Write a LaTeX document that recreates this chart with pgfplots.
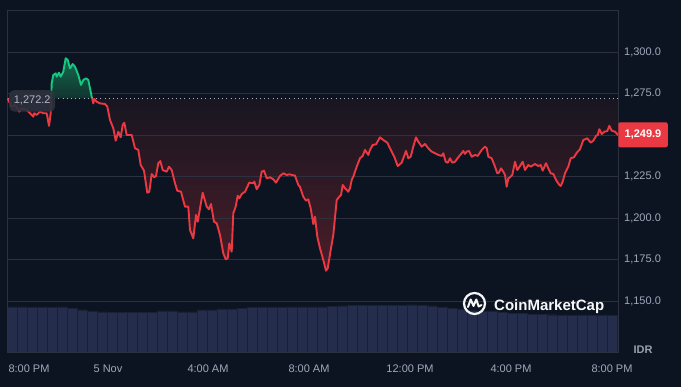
\documentclass[border=0pt]{standalone}
\usepackage{fontspec}
\setmainfont{Liberation Sans}
\usepackage{pgfplots}
\pgfplotsset{compat=1.18}
\usepackage{pgfplotstable}

\definecolor{bg}{HTML}{0D1421}
\definecolor{gridc}{HTML}{2C313D}
\definecolor{tickc}{HTML}{A1A7BB}
\definecolor{upc}{HTML}{16C784}
\definecolor{downc}{HTML}{EA3943}
\definecolor{volc}{HTML}{252D4C}
\definecolor{volline}{HTML}{1A2036}
\definecolor{redtop}{HTML}{181621}
\definecolor{redbot}{HTML}{4A1D28}
\definecolor{redbotA}{HTML}{241922}
\definecolor{greentop}{HTML}{166A4D}
\definecolor{greenbot}{HTML}{10332E}

\pgfplotsset{
  chartbox/.style={at={(7pt,35pt)}, anchor=south west, scale only axis,
    width=611pt, height=342pt, xmin=7, xmax=618},
}

% price: x = horizontal position (time, px scale), y = price (IDR)
\pgfplotstableread{
x y
7.3 1272.2
8.3 1271.2
11.7 1267.2
15 1268.2
19.3 1264.2
21.7 1266.2
26.7 1265.2
33.3 1261.2
34.3 1263.2
36.7 1262.2
40 1264.2
43.3 1263.2
46.7 1263.2
49 1255.6
50.7 1263.2
51.2 1272.2
}\redA

\pgfplotstableread{
x y
51.2 1272.2
51.7 1281.3
53.3 1286.3
55.7 1287.3
56.7 1285.3
59 1287.7
60.7 1285.3
63.3 1288.3
65.7 1296.4
67.7 1295.4
70 1290.3
72.7 1292.9
75 1291.3
78.3 1286.3
81 1280.3
83.3 1283.3
86 1284.3
88.3 1283.3
91.7 1273.2
92.1 1272.2
}\greenA

\pgfplotstableread{
x y
92.1 1272.2
93.3 1269.2
94.3 1271.8
96.7 1270.2
100 1269.2
105 1268.8
107.3 1267.2
110 1259.2
113.3 1254.2
115.7 1246.7
118.3 1252.1
120.7 1248.7
122.7 1256.2
124.3 1257.5
126.7 1250.1
131.7 1250.1
135 1242.1
138.3 1241.1
140.7 1232.0
144 1228.6
147.3 1215.3
149.3 1215.9
151.7 1226.6
154.3 1224.6
156 1225.4
158.3 1233.1
160.3 1234.4
162.7 1229.0
166.7 1228.0
169 1231.0
171.7 1229.0
175 1221.0
177.3 1216.5
181 1215.9
185 1206.9
188.3 1206.9
190 1192.8
193.3 1187.8
196 1201.9
197.7 1197.8
202.7 1215.3
206.7 1206.9
209 1205.3
211 1208.5
214 1197.8
216.7 1196.9
220 1189.8
223.3 1178.8
225.7 1175.2
227.7 1175.8
229.3 1184.8
231.7 1179.7
233.3 1202.9
235.7 1206.9
237.7 1213.5
239.3 1211.9
241.7 1214.5
245 1215.9
249.3 1221.4
253.3 1221.0
254.3 1222.0
256.7 1217.4
259.3 1220.0
261.7 1228.0
264 1228.6
266.7 1224.0
270 1224.6
273.3 1223.4
276 1221.4
280 1225.4
283.3 1227.0
286.7 1226.0
289.3 1226.4
295 1225.6
298.3 1220.0
300 1218.9
303.3 1212.9
306 1210.5
308.3 1211.3
310.7 1205.9
313.3 1196.4
315 1200.9
317.3 1188.8
320 1181.8
323.3 1174.7
326 1168.3
327.7 1169.7
330.7 1180.8
333.3 1189.8
336.7 1210.9
339.3 1212.9
341 1213.9
342.7 1220.0
345 1218.0
348.3 1215.9
350 1218.0
351.7 1223.0
353.3 1225.0
356.7 1231.0
360 1236.1
362.7 1237.5
365 1241.1
368.3 1238.1
370 1241.1
372.7 1244.1
376 1244.5
380 1248.7
383.3 1247.1
387.3 1245.5
390 1242.1
394.3 1237.0
397.7 1231.4
401.7 1233.4
406 1240.5
408.3 1236.1
410.7 1237.0
413.3 1243.1
416 1248.7
418.3 1246.1
421.7 1243.1
425 1244.7
428.3 1242.1
431.7 1240.1
435 1239.1
438.3 1238.1
441.7 1237.5
443.3 1239.1
445.7 1234.0
447.7 1233.4
450 1236.1
452.3 1233.4
455 1234.0
458.3 1236.7
461.7 1239.1
463.3 1240.5
465 1238.7
466.7 1240.1
469 1240.5
471.7 1237.0
475 1238.1
477.7 1237.5
481.7 1241.1
485 1243.1
486.7 1242.1
488.3 1237.0
491.7 1236.1
495 1231.0
497.3 1227.0
499 1227.4
501 1230.0
503.3 1228.0
505 1226.0
506.7 1218.9
508.3 1224.0
510 1224.6
512.3 1226.0
515 1234.0
517.3 1229.0
520 1231.4
522.7 1234.0
525 1229.0
528.3 1232.0
530.7 1231.0
535 1232.6
538.3 1231.4
540.7 1232.0
542.7 1228.6
546 1233.1
548.3 1230.0
550.7 1227.0
553.3 1226.6
556 1223.0
559.3 1220.0
560.7 1219.4
562.7 1222.0
565 1227.0
568.3 1231.0
570.7 1236.1
574 1236.7
576.7 1239.4
580 1241.5
583.3 1247.1
587.3 1248.1
590.7 1245.5
593.3 1246.7
596 1249.5
597.7 1250.1
599.3 1253.6
601.7 1250.7
604.3 1252.1
607.3 1252.5
609.3 1255.6
611.7 1252.7
615 1252.1
617.3 1250.7
618 1249.9
}\redB

% relative volume
\pgfplotstableread{
x v
12 13.2
22 13.2
32 13.0
42 13.0
52 13.0
62 13.2
72 12.8
82 12.3
92 11.8
102 11.7
112 11.6
122 11.6
132 11.6
142 11.6
152 11.6
162 12.0
172 12.0
182 11.7
192 11.7
202 12.3
212 12.3
222 12.6
232 12.6
242 12.7
252 13.1
262 13.1
272 13.1
282 13.1
292 13.2
302 13.2
312 13.2
322 13.2
332 13.3
342 13.5
352 13.6
362 13.7
372 13.7
382 13.7
392 13.7
402 13.7
412 13.8
422 13.6
432 13.5
442 13.0
452 12.8
462 12.4
472 12.1
482 11.9
492 11.8
502 11.5
512 11.4
522 11.3
532 11.1
542 11.1
552 10.9
562 10.8
572 10.8
582 10.8
592 10.8
602 10.8
612 10.8
}\volume

\begin{document}
\begin{tikzpicture}[x=1pt,y=1pt]
\fill[bg] (0,0) rectangle (681,387);

% volume
\begin{axis}[chartbox, ymin=0, ymax=100, hide axis, clip=true]
\addplot[ybar, bar width=10, fill=volc, draw=volline, line width=0.4pt]
  table[x=x, y=v] {\volume};
\end{axis}

% area fills (behind the grid)
\begin{axis}[chartbox, ymin=1119.25, ymax=1325.5, hide axis, clip=true]
\addplot[draw=none, top color=redtop, bottom color=redbotA]
  table[x=x,y=y] {\redA};
\addplot[draw=none, top color=greentop, bottom color=greenbot]
  table[x=x,y=y] {\greenA};
\addplot[draw=none, top color=redtop, bottom color=redbot]
  table[x=x,y=y] {\redB} -- (axis cs:618,1272.2) -- cycle;
\end{axis}

% price
\begin{axis}[chartbox, ymin=1119.25, ymax=1325.5,
  axis line style={draw=gridc, line width=0.8pt},
  ymajorgrids, grid style={draw=gridc, line width=0.8pt},
  ytick={1150,1175,...,1300},
  yticklabel pos=right,
  xtick={29,108,208,309,410,511,612},
  xticklabels={8:00 PM,5 Nov,4:00 AM,8:00 AM,12:00 PM,4:00 PM,8:00 PM},
  major tick length=0pt,
  tick style={draw=none},
  /pgf/number format/assume math mode=true,
  tick label style={font=\fontsize{11}{13}\selectfont, text=tickc},
  yticklabel style={anchor=west, inner sep=0pt, xshift=6pt,
    /pgf/number format/.cd, fixed, fixed zerofill, precision=1, 1000 sep={,}},
  xticklabel style={anchor=base, yshift=-20.5pt},
]
% baseline
\addplot[draw=tickc!85!white, line width=1pt, dash pattern=on 1pt off 3.2pt]
  coordinates {(8,1272.2) (618,1272.2)};
% price line
\addplot[draw=downc, line width=1.9pt, line join=round] table[x=x,y=y] {\redA};
\addplot[draw=upc, line width=1.9pt, line join=round] table[x=x,y=y] {\greenA};
\addplot[draw=downc, line width=1.9pt, line join=round] table[x=x,y=y] {\redB};
\end{axis}

% labels
\node[fill=gridc, fill opacity=0.9, text opacity=1, rounded corners=5pt,
  minimum width=46pt, minimum height=21.5pt, inner sep=0pt,
  text=tickc!80!white, font=\fontsize{11}{13}\selectfont] at (32.2,286.2) {1,272.2};
\node[fill=downc, rounded corners=2pt, minimum width=49.5pt, minimum height=25pt,
  inner sep=0pt, text=white, font=\fontsize{11}{13}\selectfont\bfseries]
  at (643,252.2) {1,249.9};
\node[text=tickc!80!gray, font=\fontsize{11}{13}\selectfont\bfseries] at (643,37) {IDR};

% CoinMarketCap logo
\begin{scope}[shift={(474.5,83.5)}, draw=white!90!tickc]
\draw[line width=2.2pt] (0,0) circle (10.5);
\draw[line width=2pt, line join=round, line cap=round]
  (-6.5,-3.5) -- (-3.8,4) -- (-1,-2.5) -- (1.8,4) -- (4.2,-3) -- (7,-1.5);
\end{scope}
\node[anchor=base west, inner sep=0pt, text=white!92!tickc,
  font=\fontsize{15}{18}\selectfont\bfseries] at (494,76.3) {CoinMarketCap};
\end{tikzpicture}
\end{document}
